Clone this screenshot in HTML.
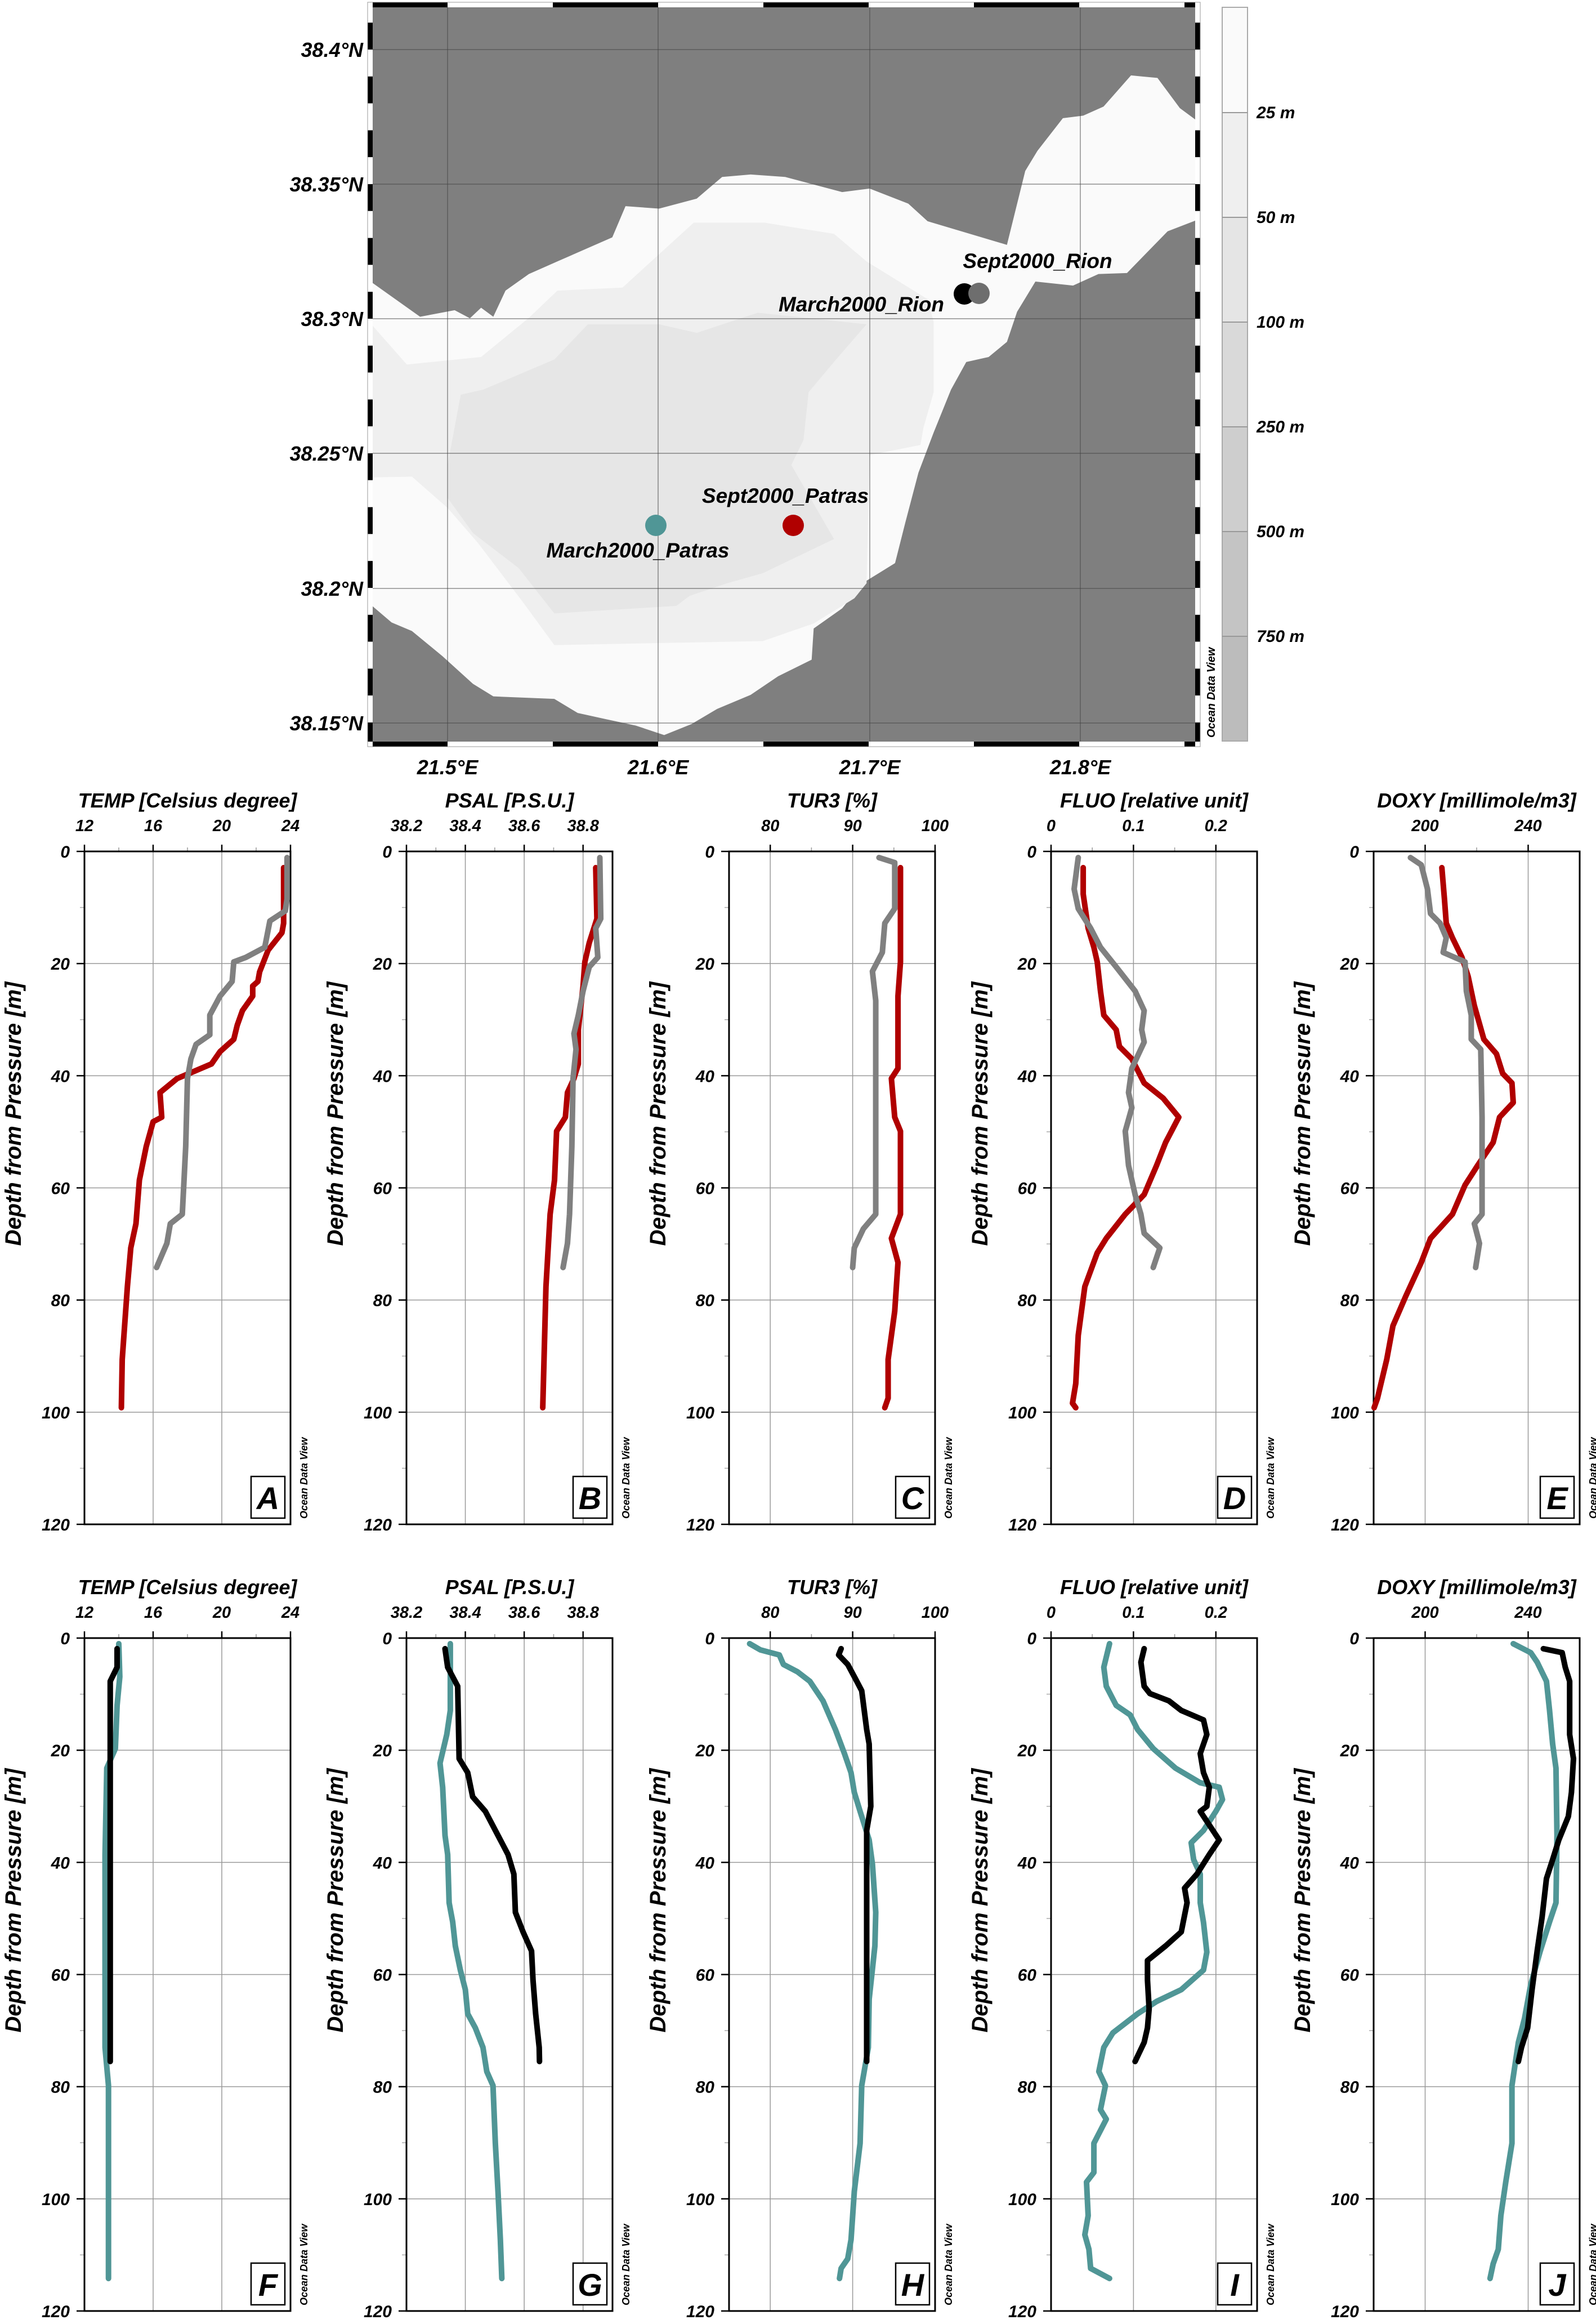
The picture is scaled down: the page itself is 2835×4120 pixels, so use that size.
<!DOCTYPE html>
<html><head><meta charset="utf-8"><style>
html,body{margin:0;padding:0;background:#fff}
svg{display:block}
text{font-family:"Liberation Sans",sans-serif;font-weight:bold;font-style:italic;fill:#000}
</style></head><body>
<svg id="root" xmlns="http://www.w3.org/2000/svg" width="2835" height="4120" viewBox="0 0 2835 4120">
<defs><clipPath id="mapclip"><rect x="662" y="13" width="1461" height="1304"/></clipPath></defs>
<g>
<rect x="653" y="4" width="1479" height="1322" fill="#fff" stroke="#999" stroke-width="1"/>
<g clip-path="url(#mapclip)">
<rect x="662" y="13" width="1461" height="1304" fill="#7f7f7f"/>
<g transform="scale(1.8067,0.8929)">
<polygon fill="#fafafa" points="363,558 413,630 447,617 462,633 473,612 485,630 497,578 520,545 548,520 602,472 615,410 648,415 685,395 710,352 738,347 772,352 828,382 855,375 893,405 912,440 990,487 1008,340 1020,300 1045,235 1065,230 1085,212 1112,150 1138,155 1160,215 1180,245 1180,435 1148,460 1108,543 1080,545 1055,568 1018,560 1000,620 990,680 972,710 950,720 935,775 918,860 903,940 890,1040 880,1120 848,1160 828,1210 800,1250 798,1312 765,1345 738,1382 705,1410 680,1440 653,1462 625,1443 595,1430 568,1418 545,1390 485,1385 465,1360 435,1305 405,1255 385,1238 363,1200 350,1200 350,558"/>
<polygon fill="#efefef" points="350,640 363,640 400,725 473,710 520,632 548,578 612,572 682,443 752,443 820,465 852,520 912,595 918,640 918,780 908,850 905,885 855,905 852,1160 840,1190 800,1240 750,1275 545,1283 515,1200 470,1080 440,1010 405,948 350,950"/>
<polygon fill="#e6e6e6" points="453,785 475,775 545,715 578,645 648,645 685,662 745,622 852,645 822,715 795,780 790,875 778,925 820,1072 750,1140 715,1160 678,1185 665,1205 545,1220 510,1130 465,1060 440,990 440,925"/>
</g>
<g id="mapgrid" stroke="#444" stroke-opacity="0.6" stroke-width="1.5"></g>
</g>
<g id="mapframe"></g>
<g font-size="36" text-anchor="end">
<text x="645" y="101">38.4°N</text>
<text x="645" y="340">38.35°N</text>
<text x="645" y="579">38.3°N</text>
<text x="645" y="818">38.25°N</text>
<text x="645" y="1058">38.2°N</text>
<text x="645" y="1297">38.15°N</text>
</g>
<g font-size="36" text-anchor="middle">
<text x="795" y="1375">21.5°E</text>
<text x="1169" y="1375">21.6°E</text>
<text x="1545" y="1375">21.7°E</text>
<text x="1919" y="1375">21.8°E</text>
</g>
<g>
<circle cx="1713" cy="522" r="19" fill="#000"/>
<circle cx="1739" cy="521" r="19" fill="#6e6e6e"/>
<circle cx="1165" cy="933" r="19" fill="#509696"/>
<circle cx="1409" cy="933" r="19" fill="#b00000"/>
<text x="1843" y="476" font-size="37" text-anchor="middle">Sept2000_Rion</text>
<text x="1530" y="553" font-size="37" text-anchor="middle">March2000_Rion</text>
<text x="1395" y="893" font-size="37" text-anchor="middle">Sept2000_Patras</text>
<text x="1133" y="990" font-size="37" text-anchor="middle">March2000_Patras</text>
</g>
<g>
<rect x="2171" y="13" width="45" height="187" fill="#fafafa"/>
<rect x="2171" y="200" width="45" height="186" fill="#efefef"/>
<rect x="2171" y="386" width="45" height="186" fill="#e5e5e5"/>
<rect x="2171" y="572" width="45" height="186" fill="#d9d9d9"/>
<rect x="2171" y="758" width="45" height="186" fill="#cecece"/>
<rect x="2171" y="944" width="45" height="186" fill="#c4c4c4"/>
<rect x="2171" y="1130" width="45" height="186" fill="#bcbcbc"/>
<rect x="2171" y="13" width="45" height="1303" fill="none" stroke="#aaa" stroke-width="2"/>
<g stroke="#999" stroke-width="2"><line x1="2171" x2="2216" y1="200" y2="200"/><line x1="2171" x2="2216" y1="386" y2="386"/><line x1="2171" x2="2216" y1="572" y2="572"/><line x1="2171" x2="2216" y1="758" y2="758"/><line x1="2171" x2="2216" y1="944" y2="944"/><line x1="2171" x2="2216" y1="1130" y2="1130"/></g>
<g font-size="30">
<text x="2232" y="210">25 m</text>
<text x="2232" y="396">50 m</text>
<text x="2232" y="582">100 m</text>
<text x="2232" y="768">250 m</text>
<text x="2232" y="954">500 m</text>
<text x="2232" y="1140">750 m</text>
</g>
<text transform="translate(2158,1310) rotate(-90)" font-size="20">Ocean Data View</text>
</g>
</g>
<g id="panels"></g>
</svg>
<script>
// ---- Row 1 (September 2000): red = Sept2000_Patras, gray = Sept2000_Rion ----
const tempSeptPatrasDepth=[2.9,12.8,14.5,17.6,21.5,23.2,24,25.8,28.4,31,33.5,35.7,37.9,39.2,40.5,43,47.4,48.2,52.6,58.6,66.4,70.7,77.6,90.6,99.2];
const tempSeptPatrasVal=[23.6,23.6,23.5,22.7,22.2,22.1,21.8,21.8,21.2,20.9,20.7,19.9,19.4,18.4,17.4,16.4,16.5,16.0,15.6,15.2,15.0,14.7,14.5,14.2,14.15];
const tempSeptRionDepth=[1.1,8.5,10.6,12.4,17.1,18.9,19.7,23.2,25.8,29.2,32.7,34.4,37,40.5,52.6,58.6,64.7,66.4,69.9,74.2];
const tempSeptRionVal=[23.8,23.8,23.7,22.8,22.5,21.4,20.7,20.6,19.9,19.3,19.3,18.5,18.2,18.0,17.9,17.8,17.7,17.0,16.8,16.2];
const psalSeptPatrasDepth=[2.9,12,16.3,19.7,24,31.8,37.9,40.5,43,47.4,49.9,58.6,64.7,77.6,99.2];
const psalSeptPatrasVal=[38.843,38.847,38.821,38.806,38.8,38.784,38.784,38.769,38.747,38.74,38.71,38.703,38.688,38.674,38.663];
const psalSeptRionDepth=[1.1,12,13.7,18.9,20.6,24.9,29.2,32.5,35.3,40.5,52.6,64.7,69.9,74.2];
const psalSeptRionVal=[38.857,38.86,38.843,38.85,38.821,38.8,38.784,38.769,38.776,38.766,38.762,38.754,38.747,38.732];
const turSeptPatrasDepth=[2.9,19.7,25.8,38.7,40.5,47.4,49.9,64.7,69,73.3,82,90.6,97.5,99.2];
const turSeptPatrasVal=[95.8,95.8,95.5,95.5,94.7,95.1,95.8,95.8,94.7,95.5,95.1,94.3,94.3,93.9];
const turSeptRionDepth=[1.1,2,10.2,12.8,18,21.4,26.6,38.7,64.7,67.3,70.7,74.2];
const turSeptRionVal=[93.2,95.1,95.1,93.9,93.6,92.4,92.8,92.8,92.8,91.3,90.2,90.0];
const fluoSeptPatrasDepth=[2.9,7.6,13.7,17.1,19.7,24.9,29.2,31.8,34.8,37,41.3,44,47.4,51.9,56,61.2,64.7,69,71.6,77.6,86.3,94.9,98.4,99.2];
const fluoSeptPatrasVal=[0.039,0.039,0.045,0.052,0.056,0.06,0.064,0.079,0.083,0.098,0.113,0.136,0.155,0.139,0.128,0.113,0.09,0.067,0.056,0.041,0.033,0.03,0.026,0.03];
const fluoSeptRionDepth=[1.1,6.7,10.2,13.7,17.1,20.6,24.9,28.4,31.8,34,38.7,43,45.7,49.9,56,61.2,64.7,68.1,70.7,74.2];
const fluoSeptRionVal=[0.033,0.028,0.033,0.048,0.06,0.079,0.102,0.113,0.11,0.113,0.098,0.094,0.098,0.09,0.094,0.102,0.109,0.113,0.132,0.124];
const doxySeptPatrasDepth=[2.9,8.5,12.8,15.4,18.9,22.3,27.5,33.5,36.1,39.6,41.3,44.8,47.4,51.9,56,59.5,64.7,69,73.3,79.4,84.6,90.6,97.5,99.2];
const doxySeptPatrasVal=[206.5,207.5,208.2,210.6,214.3,216.7,219.1,222.8,227.7,230.1,233.7,234.2,228.9,226.4,220.4,215.5,210.6,202.1,198.5,192.4,187.5,185.1,181.5,180.2];
const doxySeptRionDepth=[1.1,2.4,6.7,11.1,12.8,15.4,18,19.7,24.9,29.2,33.5,35.3,47.4,64.7,66.4,69.9,74.2];
const doxySeptRionVal=[194.3,198.5,200.9,202.1,205.8,208.2,207,215.5,216,217.9,217.9,221.6,222.1,222.1,219.1,221.1,219.6];
// ---- Row 2 (March 2000): teal = March2000_Patras, black = March2000_Rion ----
const tempMarPatrasDepth=[1,6.9,12,19.7,23.2,38.6,73,79.8,114.2];
const tempMarPatrasVal=[14,14.06,13.9,13.8,13.3,13.2,13.2,13.4,13.4];
const tempMarRionDepth=[1.9,5.2,7.7,38.6,75.5];
const tempMarRionVal=[13.9,13.9,13.5,13.5,13.5];
const psalMarPatrasDepth=[1,12.9,17.2,22.3,26.6,35.2,38.6,47.2,50.6,54.9,59.2,62.7,67,69.5,73,77.3,79.8,90.1,98.7,107.3,114.2];
const psalMarPatrasVal=[38.349,38.349,38.337,38.314,38.323,38.331,38.34,38.345,38.357,38.366,38.383,38.4,38.408,38.434,38.46,38.473,38.494,38.502,38.511,38.519,38.524];
const psalMarRionDepth=[1.9,5.2,8.6,21.5,24,28.3,30.9,35.2,38.6,42.1,48.9,52.4,55.8,61,67,73,75.5];
const psalMarRionVal=[38.331,38.34,38.374,38.379,38.408,38.425,38.468,38.511,38.545,38.565,38.57,38.596,38.625,38.63,38.639,38.651,38.652];
const turMarPatrasDepth=[1,2.1,3,4.7,6,7.7,11.2,16.3,20.6,24,27.5,30.9,36,40.3,48.9,54.9,64.4,73,79.8,90.1,98.7,107.3,110.7,112.4,114.2];
const turMarPatrasVal=[77.5,78.8,81.1,81.6,83.3,84.8,86.4,87.9,89,89.8,90.2,90.9,92,92.4,92.8,92.7,92,91.9,91.1,90.9,90.2,89.8,89.4,88.6,88.4];
const turMarRionDepth=[1.9,3,4.7,7.7,9.4,16.3,18.9,30,34.3,75.5];
const turMarRionVal=[88.6,88.3,89.4,90.5,91.1,91.7,92,92.2,91.7,91.7];
const fluoMarPatrasDepth=[1,5.2,8.6,12,13.7,16.3,19.7,23.2,25.8,26.6,28.8,30.9,34.3,36.5,39.5,42.1,47.2,50.7,56,59.2,62.7,64.8,67,70.4,73,77.3,79.8,84.1,85.8,90.1,95.3,97,103,106.4,109,112.4,114.2];
const fluoMarPatrasVal=[0.071,0.064,0.067,0.079,0.096,0.105,0.124,0.151,0.181,0.204,0.208,0.2,0.185,0.17,0.173,0.181,0.181,0.185,0.189,0.185,0.158,0.128,0.105,0.075,0.064,0.058,0.066,0.06,0.067,0.052,0.052,0.043,0.045,0.041,0.046,0.048,0.071];
const fluoMarRionDepth=[1.9,4.3,8.6,9.9,11.2,12.9,14.6,17.2,20.6,24,26.6,30,30.9,36,38.6,42.1,44.6,47.2,52.4,54.9,57.5,61,66.1,69.5,72.1,75.5];
const fluoMarRionVal=[0.113,0.109,0.113,0.12,0.143,0.158,0.185,0.189,0.181,0.185,0.192,0.189,0.181,0.204,0.192,0.177,0.162,0.165,0.158,0.139,0.117,0.117,0.119,0.117,0.113,0.102];
const doxyMarPatrasDepth=[1,2.6,4.3,7.7,12.9,18.9,23.2,35.2,47.2,50.6,55.8,61.8,67.8,72.1,79.8,90.1,97,103,109,111.6,114.2];
const doxyMarPatrasVal=[234.2,241,243.5,247.1,248.3,249.5,250.8,251.2,250.8,248.3,244.7,241,238.6,236.2,233.7,233.7,231.3,229.4,228.4,226.4,225.2];
const doxyMarRionDepth=[1.9,2.6,5.2,7.7,17.2,21.5,27.5,31.8,36,39.5,42.9,49.8,55.8,62.7,69.5,73,75.5];
const doxyMarRionVal=[245.9,253.2,254.4,256.1,256.1,257.6,256.8,255.6,251.9,249.5,247.1,245.4,243.5,241.5,239.8,237.4,236.2];

// axis definitions
const paramTitles=["TEMP [Celsius degree]","PSAL [P.S.U.]","TUR3 [%]","FLUO [relative unit]","DOXY [millimole/m3]"];
const paramMin=[12,38.2,75,0,180];
const paramMax=[24,38.9,100,0.25,260];
const majorTicks=[[12,16,20,24],[38.2,38.4,38.6,38.8],[80,90,100],[0,0.1,0.2],[200,240]];
const majorTickLabels=[["12","16","20","24"],["38.2","38.4","38.6","38.8"],["80","90","100"],["0","0.1","0.2"],["200","240"]];
const minorTicks=[[14,18,22],[38.3,38.5,38.7],[85,95],[0.05,0.15],[220]];
const depthTicks=[0,20,40,60,80,100,120];
const depthMinorTicks=[10,30,50,70,90,110];
const panelLetters=[["A","B","C","D","E"],["F","G","H","I","J"]];

const NS="http://www.w3.org/2000/svg";
const PANEL_LEFT=[150,722,1295,1867,2440], PANEL_W=366;
const ROW_TOP=[1512,2909], ROW_H=1195;

function mk(tag,attrs,parent){const e=document.createElementNS(NS,tag);for(const k in attrs)e.setAttribute(k,attrs[k]);parent.appendChild(e);return e;}

const mapgrid=document.getElementById('mapgrid');
[795,1169,1545,1919].forEach(x=>{const l=mk('line',{x1:x,x2:x,y1:13,y2:1317},mapgrid);

});
[88,327,566,805,1045,1284].forEach(y=>{const l=mk('line',{x1:662,x2:2123,y1:y,y2:y},mapgrid);

});
const frame=document.getElementById('mapframe');
function lonX(l){return 795+(l-21.5)*3740;}
function latY(l){return 88+(38.4-l)*4780;}
for(let i=-1;i<8;i++){const a=21.5+i*0.05,b=a+0.05;const black=(i%2!==0);
 const x1=Math.max(662,lonX(a)),x2=Math.min(2123,lonX(b));if(x2<=x1)continue;
 [4,1317].forEach(y=>{const r=mk('rect',{x:x1,y:y,width:x2-x1,height:9,fill:black?'#000':'#fff'},frame);
 
 });}
for(let i=-2;i<28;i++){const a=38.41-i*0.01;const black=(i%2===0);
 const y1=Math.max(13,latY(a)),y2=Math.min(1317,latY(a-0.01));if(y2<=y1)continue;
 [653,2123].forEach(x=>{const r=mk('rect',{x:x,y:y1,width:9,height:y2-y1,fill:black?'#000':'#fff'},frame);
 
 });}
const fr=mk('rect',{x:653,y:4,width:1479,height:1322,fill:'none',stroke:'#999','stroke-width':1},frame);



const rowSeries=[
 [[[tempSeptPatrasDepth,tempSeptPatrasVal,'#b00000','sept2000-patras'],[tempSeptRionDepth,tempSeptRionVal,'#808080','sept2000-rion']],
  [[psalSeptPatrasDepth,psalSeptPatrasVal,'#b00000','sept2000-patras'],[psalSeptRionDepth,psalSeptRionVal,'#808080','sept2000-rion']],
  [[turSeptPatrasDepth,turSeptPatrasVal,'#b00000','sept2000-patras'],[turSeptRionDepth,turSeptRionVal,'#808080','sept2000-rion']],
  [[fluoSeptPatrasDepth,fluoSeptPatrasVal,'#b00000','sept2000-patras'],[fluoSeptRionDepth,fluoSeptRionVal,'#808080','sept2000-rion']],
  [[doxySeptPatrasDepth,doxySeptPatrasVal,'#b00000','sept2000-patras'],[doxySeptRionDepth,doxySeptRionVal,'#808080','sept2000-rion']]],
 [[[tempMarPatrasDepth,tempMarPatrasVal,'#509696','march2000-patras'],[tempMarRionDepth,tempMarRionVal,'#000','march2000-rion']],
  [[psalMarPatrasDepth,psalMarPatrasVal,'#509696','march2000-patras'],[psalMarRionDepth,psalMarRionVal,'#000','march2000-rion']],
  [[turMarPatrasDepth,turMarPatrasVal,'#509696','march2000-patras'],[turMarRionDepth,turMarRionVal,'#000','march2000-rion']],
  [[fluoMarPatrasDepth,fluoMarPatrasVal,'#509696','march2000-patras'],[fluoMarRionDepth,fluoMarRionVal,'#000','march2000-rion']],
  [[doxyMarPatrasDepth,doxyMarPatrasVal,'#509696','march2000-patras'],[doxyMarRionDepth,doxyMarRionVal,'#000','march2000-rion']]]
];
const panelsG=document.getElementById('panels');
for(let r=0;r<2;r++){for(let p=0;p<5;p++){
 const L=PANEL_LEFT[p],T=ROW_TOP[r],R=L+PANEL_W,B=T+ROW_H;
 const xs=v=>L+(v-paramMin[p])/(paramMax[p]-paramMin[p])*PANEL_W;
 const ys=d=>T+d/120*ROW_H;
 const g=mk('g',{},panelsG);
 
 
 majorTicks[p].forEach((v,i)=>{const x=xs(v);
  const gl=mk('line',{x1:x,x2:x,y1:T,y2:B,stroke:'#999','stroke-width':1.5},g);
  
  
  const tk=mk('line',{x1:x,x2:x,y1:T-12,y2:T,stroke:'#000','stroke-width':2.5},g);
  
  
  const tl=mk('text',{x:x,y:T-36,'font-size':29,'text-anchor':'middle'},g);tl.textContent=majorTickLabels[p][i];
  
  });
 minorTicks[p].forEach(v=>{const x=xs(v);
  const tk=mk('line',{x1:x,x2:x,y1:T-7,y2:T,stroke:'#999','stroke-width':1.5},g);
  
  });
 depthTicks.forEach(d=>{const y=ys(d);
  if(d>0&&d<120){const gl=mk('line',{x1:L,x2:R,y1:y,y2:y,stroke:'#999','stroke-width':1.5},g);
   
   }
  const tk=mk('line',{x1:L-14,x2:L,y1:y,y2:y,stroke:'#000','stroke-width':2.5},g);
  
  
  const tl=mk('text',{x:L-26,y:y+11,'font-size':30,'text-anchor':'end'},g);tl.textContent=String(d);
  
  });
 depthMinorTicks.forEach(d=>{const y=ys(d);
  const tk=mk('line',{x1:L-8,x2:L,y1:y,y2:y,stroke:'#aaa','stroke-width':1.5},g);
  
  });
 const box=mk('rect',{x:L,y:T,width:PANEL_W,height:ROW_H,fill:'none',stroke:'#000','stroke-width':3},g);
 
 
 const tt=mk('text',{x:L+PANEL_W/2,y:T-78,'font-size':36,'text-anchor':'middle'},g);tt.textContent=paramTitles[p];
 
 
 const yt=mk('text',{transform:'translate('+(L-113)+','+(T+ROW_H*0.39)+') rotate(-90)','font-size':40,'text-anchor':'middle'},g);yt.textContent='Depth from Pressure [m]';
 
 
 const odv=mk('text',{transform:'translate('+(R+30)+','+(B-10)+') rotate(-90)','font-size':18},g);odv.textContent='Ocean Data View';
 
 
 const lb=mk('rect',{x:R-70,y:B-85,width:60,height:74,fill:'#fff',stroke:'#000','stroke-width':2.5},g);
 
 
 const lt=mk('text',{x:R-40,y:B-27,'font-size':56,'text-anchor':'middle'},g);lt.textContent=panelLetters[r][p];
 
 
 rowSeries[r][p].forEach(s=>{const [dep,val,col,nm]=s;
  const pts=dep.map((d,i)=>xs(val[i]).toFixed(1)+','+ys(d).toFixed(1)).join(' ');
  const pl=mk('polyline',{points:pts,fill:'none',stroke:col,'stroke-width':10,'stroke-linejoin':'round','stroke-linecap':'round'},g);
  
  });
}}
</script>
</body></html>
